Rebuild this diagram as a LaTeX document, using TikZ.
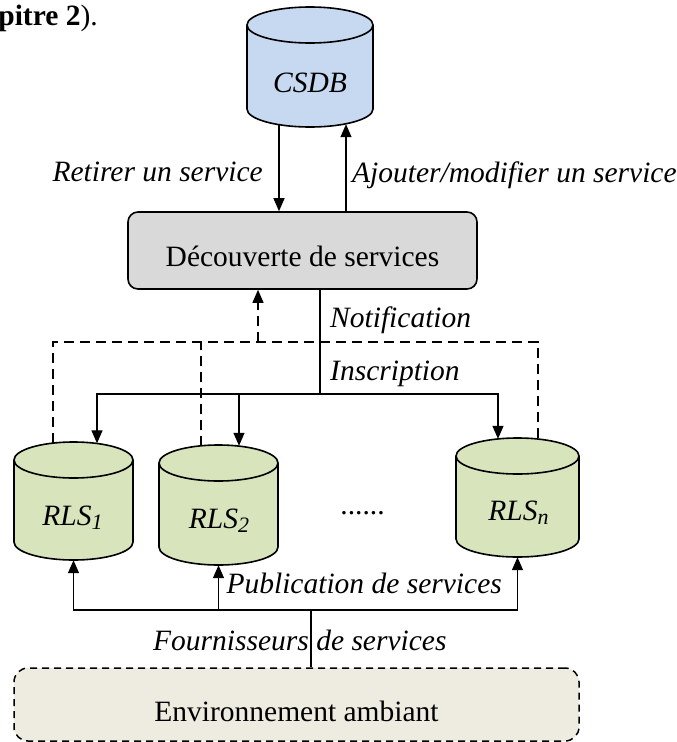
\documentclass[tikz,border=0pt]{standalone}
\usepackage{fontspec}
\setmainfont{Liberation Serif}
\usetikzlibrary{arrows.meta,calc}
\definecolor{csdbfill}{HTML}{C6D9F0}
\definecolor{rlsfill}{HTML}{D7E4BC}
\definecolor{discfill}{HTML}{D9D9D9}
\definecolor{envfill}{HTML}{EEECE1}
\newcommand\dbcyl[6]{%
  \node[draw=none, inner sep=0, minimum width={2*#5*1pt}, minimum height={(#4-#3)*1pt}] (#1) at (#2, {-(#3+#4)/2}) {};
  \filldraw[cylline, fill=#6] (#2-#5, -#3-18) -- (#2-#5, -#4+18)
     arc[start angle=180, end angle=360, x radius=#5pt, y radius=18pt]
     -- (#2+#5, -#3-18)
     arc[start angle=0, end angle=180, x radius=#5pt, y radius=18pt] -- cycle;
  \draw[cylline] (#2-#5, -#3-18) arc[start angle=180, end angle=360, x radius=#5pt, y radius=18pt];
}
\newcommand\subsc[1]{{\fontsize{22}{22}\selectfont\raisebox{-4pt}{#1}}}
\begin{document}
\begin{tikzpicture}[x=1pt, y=1pt,
  every node/.style={font=\fontsize{29.5}{34}\selectfont, inner sep=0pt},
  conn/.style={line width=1.3pt},
  arr/.style={conn, -{Triangle[length=13pt,width=11pt]}},
  dashconn/.style={conn, dash pattern=on 10pt off 6pt},
  dasharr/.style={dashconn, -{Triangle[length=13pt,width=11pt]}},
  cylline/.style={line width=1.6pt},
  lbl/.style={font=\fontsize{29.5}{34}\selectfont\itshape}
]
\clip (0,0) rectangle (677,-742);
\useasboundingbox (0,0) rectangle (677,-742);

% top-left cut text
\node[anchor=base east] (chap) at (98,-25) {\textbf{pitre 2}).};

% cylinders
\dbcyl{csdb}{310}{7}{127}{63}{csdbfill}
\dbcyl{rls1}{73.5}{442}{560}{59.5}{rlsfill}
\dbcyl{rls2}{218.5}{445}{565}{59.5}{rlsfill}
\dbcyl{rlsn}{517.5}{438}{557}{61.5}{rlsfill}

\node[lbl, anchor=base] (csdbt) at (310,-92) {CSDB};
\node[lbl, anchor=base] (rls1t) at (72.5,-525) {RLS\subsc{1}};
\node[lbl, anchor=base] (rls2t) at (219,-528) {RLS\subsc{2}};
\node[lbl, anchor=base] (rlsnt) at (518.5,-520) {RLS\subsc{n}};
\node[anchor=base] (dots) at (362.5,-514) {......};

% discovery box
\node[draw, line width=1.6pt, fill=discfill, rounded corners=10pt,
      minimum width=349pt, minimum height=77pt] (disc) at (302.5,-250.5)
      {\raisebox{-6pt}[\height][0pt]{Découverte de services}};

% environment box
\node[draw, line width=1.5pt, dash pattern=on 7pt off 5pt, fill=envfill, rounded corners=14pt,
      minimum width=565pt, minimum height=73pt] (env) at (296.5,-704.5)
      {\raisebox{-7pt}[\height][0pt]{Environnement ambiant}};

% CSDB <-> discovery
\draw[arr] ([xshift=-31pt,yshift=2pt]csdb.south) -- ([xshift=-31pt]csdb.south |- disc.north);
\draw[arr] ([xshift=36pt]csdb.south |- disc.north) -- ([xshift=36pt,yshift=3pt]csdb.south);
\node[lbl, anchor=base east] (retirer) at (263,-181) {Retirer un service};
\node[lbl, anchor=base west] (ajouter) at (352,-182) {Ajouter/modifier un service};

% notification (dashed)
\coordinate (dbus) at (258,-342);
\draw[dashconn] ([xshift=-20.5pt,yshift=-1pt]rls1.north) |- (dbus) -| ([xshift=20.5pt,yshift=-1pt]rlsn.north);
\draw[dashconn] ([xshift=-17.5pt,yshift=-1pt]rls2.north) -- ([xshift=-17.5pt]rls2.north |- dbus);
\draw[dasharr] (dbus) -- (dbus |- disc.south);
\node[lbl, anchor=base west] (notif) at (330,-327) {Notification};

% inscription (solid)
\coordinate (ibus) at (320,-394);
\draw[conn] (disc.south -| ibus) -- (ibus);
\draw[arr] (ibus) -| ([xshift=23.5pt,yshift=-1.5pt]rls1.north);
\draw[arr] (ibus) -| ([xshift=-19.5pt,yshift=-1pt]rlsn.north);
\draw[arr] ([xshift=20.5pt]rls2.north |- ibus) -- ([xshift=20.5pt,yshift=-1pt]rls2.north);
\node[lbl, anchor=base west] (inscr) at (330,-380) {Inscription};

% publication (solid)
\coordinate (pbus) at (311,-610);
\draw[conn] (env.north -| pbus) -- (pbus);
\draw[arr] (pbus) -| (rls1.south);
\draw[arr] (pbus) -| (rlsn.south);
\draw[arr] (rls2.south |- pbus) -- (rls2.south);
\node[lbl, anchor=base east] (publi) at (502,-593) {Publication de services};
\node[lbl, anchor=base west] (fourn) at (153,-650) {Fournisseurs de services};
\end{tikzpicture}
\end{document}
